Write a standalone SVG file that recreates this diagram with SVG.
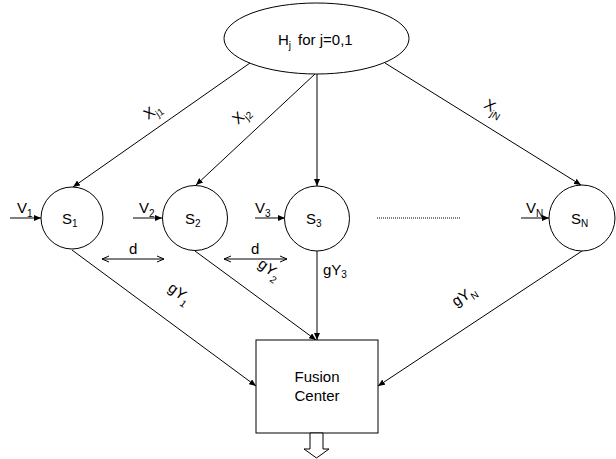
<svg xmlns="http://www.w3.org/2000/svg" width="616" height="459" viewBox="0 0 616 459">
<defs>
<marker id="ah" markerUnits="userSpaceOnUse" markerWidth="8" markerHeight="6" refX="7" refY="3" orient="auto">
<path d="M0,0 L7,3 L0,6 Z" fill="#000"/>
</marker>
<marker id="oh" markerUnits="userSpaceOnUse" markerWidth="8" markerHeight="8" refX="7" refY="4" orient="auto-start-reverse">
<path d="M0,1 L7,4 L0,7" fill="none" stroke="#000" stroke-width="1"/>
</marker>
<style>
text{font-family:"Liberation Sans",Arial,sans-serif;font-size:15px;fill:#000}
.sub{font-size:10px}
.shape{fill:#fff;stroke:#000;stroke-width:1}
.con{fill:none;stroke:#000;stroke-width:1;marker-end:url(#ah)}
.dd{fill:none;stroke:#000;stroke-width:1;marker-start:url(#oh);marker-end:url(#oh)}
</style>
</defs>
<rect width="616" height="459" fill="#fff"/>
<g id="connectors">
<line class="con" x1="250" y1="63" x2="73" y2="187"/>
<line class="con" x1="315" y1="74" x2="196" y2="185"/>
<line class="con" x1="317" y1="74" x2="317" y2="186"/>
<line class="con" x1="385" y1="63" x2="581" y2="185"/>
<line class="con" x1="72" y1="250" x2="256" y2="386"/>
<line class="con" x1="195" y1="251" x2="316" y2="340"/>
<line class="con" x1="317" y1="251" x2="317" y2="340"/>
<line class="con" x1="582" y1="251" x2="378" y2="386"/>
<line class="con" x1="10" y1="218" x2="41" y2="218"/>
<line class="con" x1="133" y1="218" x2="162" y2="218"/>
<line class="con" x1="255" y1="218" x2="285" y2="218"/>
<line class="con" x1="521" y1="218" x2="549" y2="218"/>
<line class="dd" x1="102" y1="259" x2="164" y2="259"/>
<line class="dd" x1="224" y1="259" x2="287" y2="259"/>
<line x1="377" y1="218" x2="460" y2="218" stroke="#000" stroke-width="1" stroke-dasharray="1,1"/>
</g>
<g id="labels">
<text transform="translate(148,120) rotate(-35)">X<tspan class="sub" dy="4">j1</tspan></text>
<text transform="translate(238,125) rotate(-43)">X<tspan class="sub" dy="4">j2</tspan></text>
<text transform="translate(483,107) rotate(32)">X<tspan class="sub" dy="4">jN</tspan></text>
<text transform="translate(167,290) rotate(36)">gY<tspan class="sub" dy="5">1</tspan></text>
<text transform="translate(257,266) rotate(36)">gY<tspan class="sub" dy="5">2</tspan></text>
<text x="323" y="275">gY<tspan class="sub" dy="3">3</tspan></text>
<text transform="translate(456,307) rotate(-33.5)">gY<tspan class="sub" dy="4">N</tspan></text>
<text x="17" y="213">V<tspan class="sub" dy="4">1</tspan></text>
<text x="139" y="213">V<tspan class="sub" dy="4">2</tspan></text>
<text x="255" y="213">V<tspan class="sub" dy="4">3</tspan></text>
<text x="526" y="213">V<tspan class="sub" dy="4">N</tspan></text>
<text x="129" y="254">d</text>
<text x="251" y="254">d</text>
</g>
<g id="hyp">
<ellipse class="shape" cx="316.5" cy="38.5" rx="92.5" ry="35.5"/>
<text x="278" y="45">H<tspan class="sub" dy="4">j</tspan><tspan dx="7" dy="-4">for j=0,1</tspan></text>
</g>
<g id="s1">
<circle class="shape" cx="72" cy="218" r="31"/>
<text x="62" y="224">S<tspan class="sub" dy="3">1</tspan></text>
</g>
<g id="s2">
<circle class="shape" cx="195" cy="218" r="32.5"/>
<text x="185" y="224">S<tspan class="sub" dy="3">2</tspan></text>
</g>
<g id="s3">
<circle class="shape" cx="317" cy="218.5" r="32.5"/>
<text x="306" y="224">S<tspan class="sub" dy="3">3</tspan></text>
</g>
<g id="sn">
<circle class="shape" cx="582" cy="218" r="33"/>
<text x="571" y="224">S<tspan class="sub" dy="3">N</tspan></text>
</g>
<g id="fusion">
<rect class="shape" x="256" y="340" width="122" height="93"/>
<text x="317" y="382" text-anchor="middle">Fusion</text>
<text x="317" y="401" text-anchor="middle">Center</text>
</g>
<g id="output">
<polygon class="shape" points="310,433 323,433 323,449 329,449 316.5,458 304,449 310,449"/>
</g>
</svg>
